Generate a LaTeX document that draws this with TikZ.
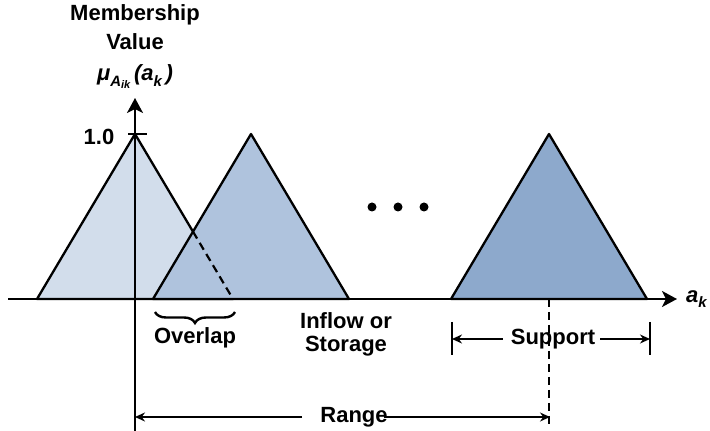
\documentclass[tikz,border=0pt]{standalone}
\usepackage{fontspec}
\setmainfont{Liberation Sans}
\usetikzlibrary{arrows.meta,decorations.pathreplacing,intersections}
\definecolor{fillA}{HTML}{D2DDEB}
\definecolor{fillB}{HTML}{AFC3DD}
\definecolor{fillC}{HTML}{8DA9CC}
\begin{document}
\begin{tikzpicture}[x=1pt,y=1pt]
	\tikzset{tri/.style={draw, line width=2.3pt, line join=round},
		lbl/.style={font=\fontsize{22}{23}\selectfont\bfseries, inner sep=0pt, align=center},
		dsh/.style={line width=2.2pt, dash pattern=on 8pt off 5pt},
		axis/.style={line width=2.2pt, -{Stealth[length=15pt,width=16pt,inset=4pt]}},
		dim/.style={line width=1.4pt, -{Stealth[length=10pt,width=9pt]}},
		bar/.style={line width=1.3pt}}
	\useasboundingbox (0,0) rectangle (710,431);
	\coordinate (o)   at (135,132);
	\coordinate (xl)  at (8,132);
	\coordinate (xr)  at (677,132);
	\coordinate (yb)  at (135,0);
	\coordinate (yt)  at (135,333);
	\coordinate (t1l) at (37,132);
	\coordinate (t1p) at (135,297);
	\coordinate (t1r) at (233,132);
	\coordinate (t2l) at (153,132);
	\coordinate (t2p) at (251,297);
	\coordinate (t2r) at (349,132);
	\coordinate (t3l) at (451,132);
	\coordinate (t3p) at (549,297);
	\coordinate (t3r) at (647,132);
	\draw[tri,fill=fillA] (t1l) -- (t1p) -- (t1r) -- cycle;
	\path[name path=rA] (t1p) -- (t1r);
	\path[name path=lB] (t2l) -- (t2p);
	\path[name intersections={of=rA and lB, by=cx}];
	\draw[dsh] (t1p) -- (o);
	\draw[tri,fill=fillB] (t2l) -- (t2p) -- (t2r) -- cycle;
	\draw[dsh] (cx) -- (t1r);
	\draw[tri,fill=fillC] (t3l) -- (t3p) -- (t3r) -- cycle;
	\foreach \dx in {372,398,424}
		\fill (\dx,224) circle (4.5pt);
	\draw[axis] (xl) -- (xr);
	\draw[axis] (yb) -- (yt);
	\coordinate (tkl) at (128,297);
	\coordinate (tkr) at (147,297);
	\draw[line width=1.5pt] (tkl) -- (tkr);
	\node[lbl] (one) at (99,294) {1.0};
	\node[lbl] (mem) at (135,416) {Membership};
	\node[lbl] (val) at (135,389) {Value};
	\node[lbl] (mu)  at (135,354) {\itshape μ\raisebox{-0.45ex}{\fontsize{15}{15}\selectfont A\raisebox{-0.35ex}{\fontsize{11}{11}\selectfont ik}}\,(a\raisebox{-0.45ex}{\fontsize{15}{15}\selectfont k}\,)};
	\node[lbl,anchor=west] (ak) at (686,132) {\itshape a\raisebox{-0.45ex}{\fontsize{15}{15}\selectfont k}};
	\coordinate (bl) at (155,119);
	\coordinate (br) at (235,119);
	\draw[decorate, decoration={brace, mirror, amplitude=11pt}, line width=2.4pt] (bl) -- (br);
	\node[lbl] (ovl) at (195,93) {Overlap};
	\node[lbl] (inf) at (346,97) {Inflow or\\Storage};
	\coordinate (sc) at (549,132);
	\coordinate (se) at (549,6);
	\draw[dsh] (sc) -- (se);
	\coordinate (s1t) at (452,109);
	\coordinate (s1b) at (452,76);
	\coordinate (s2t) at (650,109);
	\coordinate (s2b) at (650,76);
	\draw[bar] (s1t) -- (s1b);
	\draw[bar] (s2t) -- (s2b);
	\node[lbl] (sup) at (553,92) {Support};
	\draw[dim] ([xshift=-8pt]sup.west) -- (s1t |- sup);
	\draw[dim] ([xshift=5pt]sup.east) -- (s2t |- sup);
	\coordinate (rl) at (135,14);
	\coordinate (rr) at (550,14);
	\node[lbl] (rng) at (354,14) {Range};
	\draw[dim] ([xshift=-18pt]rng.west) -- (rl);
	\draw[dim] ([xshift=-4pt]rng.east) -- (rr);
\end{tikzpicture}
\end{document}
